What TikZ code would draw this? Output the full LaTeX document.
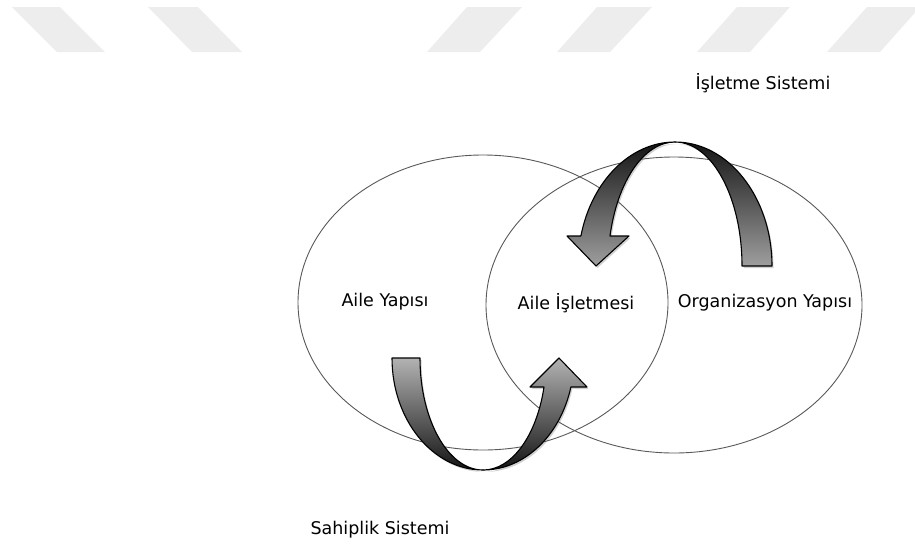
\documentclass[tikz,border=0pt]{standalone}
\usepackage{fontspec}
\setmainfont{DejaVu Sans}
\usepackage{tikz}
\usetikzlibrary{shadows}

\begin{document}
\begin{tikzpicture}[
    x=1pt, y=-1pt,
    lbl/.style={font=\fontsize{17.5}{20}\selectfont, inner sep=0pt},
    circ/.style={draw=black!65, line width=0.9pt},
    wmark/.style={fill=black!7},
    band/.style={draw=black, line width=1.1pt, line join=round,
        drop shadow={shadow xshift=1.5pt, shadow yshift=-2pt, opacity=.3, fill=black!60}},
    upband/.style={band, top color=black!30, bottom color=black!92},
    downband/.style={band, top color=black!92, bottom color=black!38},
]
\useasboundingbox (0,0) rectangle (915,547);

% Watermark
\fill[wmark] (12,7) -- (60,7) -- (105,52) -- (57,52) -- cycle;
\fill[wmark] (148,7) -- (198,7) -- (242,52) -- (192,52) -- cycle;
\fill[wmark] (467,7) -- (522,7) -- (480,52) -- (427,52) -- cycle;
\fill[wmark] (597,7) -- (652,7) -- (610,52) -- (557,52) -- cycle;
\fill[wmark] (737,7) -- (790,7) -- (750,52) -- (697,52) -- cycle;
\fill[wmark] (867,7) -- (920,7) -- (880,52) -- (827,52) -- cycle;

% Systems
\draw[circ] (483,302.5) ellipse [x radius=185, y radius=147.5];
\draw[circ] (674,305) ellipse [x radius=188, y radius=148];

% Sahiplik arrow
\path[upband] (392,358) arc[start angle=180, end angle=90, x radius=91, y radius=112]
    arc[start angle=90, end angle=180, x radius=63, y radius=112] -- cycle;
\path[upband] (483,470) arc[start angle=90, end angle=15, x radius=91, y radius=112]
    -- (587,387) -- (559,358) -- (530,387) -- (544,387)
    arc[start angle=15, end angle=90, x radius=63, y radius=112] -- cycle;

% Isletme arrow
\path[downband] (772,266) arc[start angle=0, end angle=-90, x radius=97, y radius=124]
    arc[start angle=-90, end angle=0, x radius=67, y radius=124] -- cycle;
\path[downband] (675,142) arc[start angle=270, end angle=194, x radius=97, y radius=124]
    -- (567,236) -- (596,266) -- (629,236) -- (610,236)
    arc[start angle=194, end angle=270, x radius=67, y radius=124] -- cycle;

% Labels
\node[lbl] (aile) at (385,302) {Aile Yapısı};
\node[lbl] (isletme) at (576,303) {Aile İşletmesi};
\node[lbl] (org) at (765,303) {Organizasyon Yapısı};
\node[lbl] (issis) at (763,83) {İşletme Sistemi};
\node[lbl] (sahip) at (380,530) {Sahiplik Sistemi};
\end{tikzpicture}
\end{document}
